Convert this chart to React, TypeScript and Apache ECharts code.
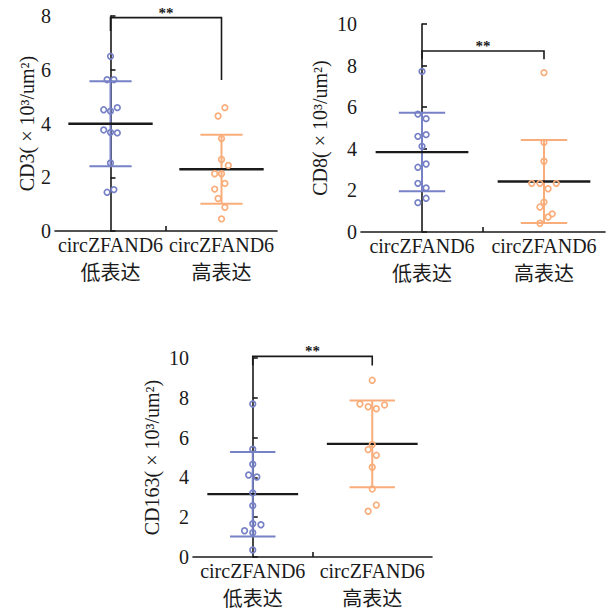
import React, { useEffect, useRef } from "react";
import * as echarts from "echarts";

// Groups (x categories)
const groupNames = ["circZFAND6\n低表达", "circZFAND6\n高表达"];

// Panel titles (y axis names)
const yNames = ["CD3( × 10³/um²)", "CD8( × 10³/um²)", "CD163( × 10³/um²)"];
const yMax = [8, 10, 10];

// CD3 values
const cd3Low = [6.5, 5.63, 5.63, 4.51, 4.46, 4.59, 3.76, 3.67, 3.65, 2.53, 1.44, 1.54];
const cd3High = [4.59, 4.28, 3.44, 2.66, 2.44, 2.13, 2.13, 1.77, 1.56, 1.21, 0.88, 0.45];
// CD8 values
const cd8Low = [7.72, 5.67, 5.45, 4.6, 4.68, 4.12, 3.11, 3.27, 2.34, 2.12, 1.62, 1.41];
const cd8High = [7.66, 4.31, 3.4, 2.34, 2.34, 2.34, 2.08, 1.44, 1.2, 0.87, 0.72, 0.42];
// CD163 values
const cd163Low = [7.69, 5.42, 4.66, 4.12, 4.02, 3.22, 2.58, 1.67, 1.62, 1.32, 1.22, 0.35];
const cd163High = [8.88, 7.69, 7.55, 7.45, 7.64, 5.65, 5.4, 5.11, 4.51, 3.42, 2.61, 2.3];

// swarm slot indices (beeswarm side-by-side placement)
const cd3LowSlot = [0, -1, 1, -2, 0, 2, -2, 0, 2, 0, -1, 1];
const cd3HighSlot = [1, -1, 0, 0, 2, -2, 0, 1, -2, -1, 1, 0];
const cd8LowSlot = [0, -1, 1, -1, 1, 0, -1, 1, -1, 1, 1, -1];
const cd8HighSlot = [0, 0, 0, -3, -1, 3, 1, 0, -1, 2, 1, -1];
const cd163LowSlot = [0, 0, 0, -1, 1, 0, 0, 0, 2, -2, 0, 0];
const cd163HighSlot = [0, -3, -1, 1, 3, 0, -1, 1, 0, 0, 1, -1];

// significance brackets: [left leg end, top, right leg end]
const brackets = [
  [7.44, 7.94, 5.62],
  [8.3, 8.7, 8.3],
  [9.62, 10.08, 9.62],
];
const sigLabels = ["**", "**", "**"];

const panels = [
  { low: cd3Low, high: cd3High, lowSlot: cd3LowSlot, highSlot: cd3HighSlot },
  { low: cd8Low, high: cd8High, lowSlot: cd8LowSlot, highSlot: cd8HighSlot },
  { low: cd163Low, high: cd163High, lowSlot: cd163LowSlot, highSlot: cd163HighSlot },
];

const BLUE = "#7681c6";
const ORANGE = "#f9ad7a";
const INK = "#1a1a1a";
const FONT = "Liberation Serif, Noto Sans CJK SC, serif";

const grids = [
  { left: 55, top: 16, width: 222, height: 215 },
  { left: 361, top: 24, width: 244, height: 208 },
  { left: 193, top: 358, width: 239, height: 201 },
];
const slotStep = [3.4, 4.1, 4.1];
const nameGaps = [18, 31, 31];

function mean(a: number[]) {
  return a.reduce((s, v) => s + v, 0) / a.length;
}
function sd(a: number[]) {
  const m = mean(a);
  return Math.sqrt(a.reduce((s, v) => s + (v - m) * (v - m), 0) / (a.length - 1));
}

function buildOption() {
  const xAxis: any[] = [];
  const yAxis: any[] = [];
  const series: any[] = [];

  panels.forEach((p, i) => {
    xAxis.push({
      type: "value",
      gridIndex: i,
      min: -0.5,
      max: 1.5,
      axisLine: { show: true, lineStyle: { color: INK, width: 1.6 } },
      axisTick: {
        show: true,
        inside: true,
        length: 5,
        customValues: [0.5],
        lineStyle: { color: INK, width: 1.6 },
      },
      axisLabel: {
        show: true,
        customValues: [0, 1],
        formatter: (v: number) => groupNames[Math.round(v)],
        fontFamily: FONT,
        fontSize: 20,
        lineHeight: 28,
        margin: 0,
        color: INK,
      },
      splitLine: { show: false },
    });
    yAxis.push({
      type: "value",
      gridIndex: i,
      min: 0,
      max: yMax[i],
      interval: 2,
      name: yNames[i],
      nameLocation: "middle",
      nameGap: nameGaps[i],
      nameTextStyle: { fontFamily: FONT, fontSize: 20, color: INK },
      axisLine: { show: true, lineStyle: { color: INK, width: 1.6 } },
      axisTick: { show: true, inside: true, length: 5, lineStyle: { color: INK, width: 1.6 } },
      axisLabel: { fontFamily: FONT, fontSize: 20, color: INK, margin: 4 },
      splitLine: { show: false },
    });

    const step = slotStep[i];
    [p.low, p.high].forEach((vals, g) => {
      const slots = g === 0 ? p.lowSlot : p.highSlot;
      const color = g === 0 ? BLUE : ORANGE;
      // error bars + mean
      series.push({
        type: "custom",
        xAxisIndex: i,
        yAxisIndex: i,
        z: 2,
        data: [[g, mean(vals), sd(vals)]],
        encode: { x: 0, y: 1 },
        renderItem: (params: any, api: any) => {
          const x = api.value(0);
          const m = api.value(1);
          const s = api.value(2);
          const band = api.size([1, 0])[0];
          const c = api.coord([x, m]);
          const t = api.coord([x, m + s]);
          const b = api.coord([x, m - s]);
          const cap = band * 0.19;
          const mh = band * 0.38;
          return {
            type: "group",
            children: [
              { type: "line", shape: { x1: c[0], y1: t[1], x2: c[0], y2: b[1] }, style: { stroke: color, lineWidth: 2 } },
              { type: "line", shape: { x1: c[0] - cap, y1: t[1], x2: c[0] + cap, y2: t[1] }, style: { stroke: color, lineWidth: 2 } },
              { type: "line", shape: { x1: c[0] - cap, y1: b[1], x2: c[0] + cap, y2: b[1] }, style: { stroke: color, lineWidth: 2 } },
              { type: "line", shape: { x1: c[0] - mh, y1: c[1], x2: c[0] + mh, y2: c[1] }, style: { stroke: INK, lineWidth: 2.4 } },
            ],
          };
        },
      });
      // points
      series.push({
        type: "scatter",
        xAxisIndex: i,
        yAxisIndex: i,
        z: 3,
        symbol: "circle",
        symbolSize: 5.6,
        itemStyle: { color: "rgba(255,255,255,0)", borderColor: color, borderWidth: 1.7, opacity: 1 },
        data: vals.map((v, k) => ({ value: [g, v], symbolOffset: [slots[k] * step, 0] })),
      });
    });

    // significance bracket
    const br = brackets[i];
    series.push({
      type: "custom",
      xAxisIndex: i,
      yAxisIndex: i,
      z: 4,
      data: [[0, br[0], br[1], br[2]]],
      encode: { x: 0, y: 2 },
      renderItem: (params: any, api: any) => {
        const l = api.coord([0, api.value(1)]);
        const tl = api.coord([0, api.value(2)]);
        const tr = api.coord([1, api.value(2)]);
        const r = api.coord([1, api.value(3)]);
        return {
          type: "group",
          children: [
            {
              type: "polyline",
              shape: { points: [l, tl, tr, r] },
              style: { stroke: INK, lineWidth: 1.6, fill: null },
            },
            {
              type: "text",
              x: (tl[0] + tr[0]) / 2,
              y: tl[1] - 5,
              style: {
                text: sigLabels[i],
                fontFamily: FONT,
                fontSize: 15,
                fontWeight: "bold",
                fill: INK,
                align: "center",
                verticalAlign: "middle",
              },
            },
          ],
        };
      },
    });
  });

  return {
    animation: false,
    backgroundColor: "#ffffff",
    textStyle: { fontFamily: FONT },
    grid: grids.map((g) => ({ ...g, containLabel: false })),
    xAxis,
    yAxis,
    series,
  };
}

export default function App() {
  const ref = useRef<HTMLDivElement>(null);
  useEffect(() => {
    if (!ref.current) return;
    const chart = echarts.init(ref.current, undefined, { renderer: "svg" });
    chart.setOption(buildOption() as any);
    return () => chart.dispose();
  }, []);
  return (
    <div
      ref={ref}
      style={{ position: "absolute", left: 0, top: 0, width: 611, height: 613, background: "#fff" }}
    />
  );
}
